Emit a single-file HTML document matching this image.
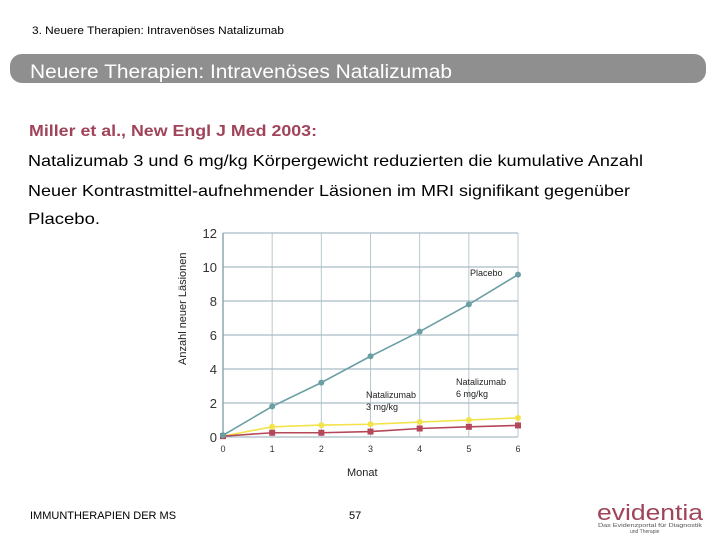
<!DOCTYPE html>
<html><head><meta charset="utf-8"><style>
body{margin:0;background:#fff;width:720px;height:540px;overflow:hidden;font-family:"Liberation Sans",sans-serif}
</style></head><body>
<svg width="720" height="540" style="display:block">
<text x="32" y="34" font-size="11" fill="#000" textLength="252" lengthAdjust="spacingAndGlyphs">3. Neuere Therapien: Intravenöses Natalizumab</text>
<rect x="10" y="54" width="696" height="29" rx="12" fill="#8f8f8f"/>
<text x="30" y="78" font-size="19" fill="#fff" textLength="422" lengthAdjust="spacingAndGlyphs">Neuere Therapien: Intravenöses Natalizumab</text>
<text x="29" y="136" font-size="16" font-weight="bold" fill="#a0445a" textLength="288" lengthAdjust="spacingAndGlyphs">Miller et al., New Engl J Med 2003:</text>
<g font-size="16" fill="#000">
<text x="28" y="166" textLength="615" lengthAdjust="spacingAndGlyphs">Natalizumab 3 und 6 mg/kg Körpergewicht reduzierten die kumulative Anzahl</text>
<text x="28" y="196" textLength="602" lengthAdjust="spacingAndGlyphs">Neuer Kontrastmittel-aufnehmender Läsionen im MRI signifikant gegenüber</text>
<text x="28" y="224" textLength="72" lengthAdjust="spacingAndGlyphs">Placebo.</text>
</g>
<g id="chart"></g>
<text x="30" y="519" font-size="11" fill="#000">IMMUNTHERAPIEN DER MS</text>
<text x="349" y="519" font-size="11" fill="#000">57</text>
<text x="597" y="520" font-size="22" fill="#a0445a" textLength="106" lengthAdjust="spacingAndGlyphs">evidentia</text>
<text x="598" y="527" font-size="5" fill="#555" textLength="104" lengthAdjust="spacingAndGlyphs">Das Evidenzportal für Diagnostik</text>
<text x="630" y="533" font-size="5" fill="#555">und Therapie</text>
</svg>
<script>
const months=[0,1,2,3,4,5,6];
const yTicks=[0,2,4,6,8,10,12];
const placebo=[0.1,1.8,3.2,4.75,6.2,7.8,9.55];
const dose3=[0.05,0.6,0.7,0.75,0.88,1.0,1.12];
const dose6=[0.05,0.25,0.25,0.32,0.5,0.6,0.68];
const NS='http://www.w3.org/2000/svg';
const g=document.getElementById('chart');
const X=v=>223+v*(518-223)/6, Y=v=>437-v*(437-233)/12;
function mk(t,a,p){const e=document.createElementNS(NS,t);for(const k in a)e.setAttribute(k,a[k]);(p||g).appendChild(e);return e;}
months.forEach(m=>{const l=mk('line',{x1:X(m),x2:X(m),y1:Y(12),y2:Y(0),stroke:'#b9c9cf','stroke-width':1});


const t=mk('text',{x:X(m),y:452,'font-size':9,'text-anchor':'middle',fill:'#333'});t.textContent=m;

});
yTicks.forEach(v=>{const l=mk('line',{x1:X(0),x2:X(6),y1:Y(v),y2:Y(v),stroke:'#a9bcc4','stroke-width':1.2});


const t=mk('text',{x:217,y:Y(v)+5,'font-size':13,'text-anchor':'end',fill:'#333'});t.textContent=v;

});
const ax=mk('line',{x1:X(0),x2:X(0),y1:Y(12),y2:Y(0),stroke:'#8fa7b0','stroke-width':1.5});


function series(vals,color,name,marker){
const pl=mk('polyline',{points:vals.map((v,i)=>X(months[i])+','+Y(v)).join(' '),fill:'none',stroke:color,'stroke-width':1.6});


vals.forEach((v,i)=>{let p;
if(marker==='sq')p=mk('rect',{x:X(months[i])-3,y:Y(v)-3,width:6,height:6,fill:color});
else p=mk('circle',{cx:X(months[i]),cy:Y(v),r:3,fill:color});

});}
series(dose3,'#f2e34a','dose3','c');
series(dose6,'#b5475a','dose6','sq');
series(placebo,'#6a9fa4','placebo','c');
function lab(x,y,s,name,size){const t=mk('text',{x:x,y:y,'font-size':size||9,fill:'#222'});t.textContent=s;

}
lab(470,276,'Placebo','placebo-label');
lab(366,398,'Natalizumab','dose3-label');lab(366,410,'3 mg/kg','dose3-label-2');
lab(456,385,'Natalizumab','dose6-label');lab(456,397,'6 mg/kg','dose6-label-2');
lab(347,476,'Monat','x-axis-title',11);
const yt=mk('text',{x:0,y:0,'font-size':11,fill:'#222',transform:'translate(186,365) rotate(-90)'});yt.textContent='Anzahl neuer Läsionen';


</script>
</body></html>
